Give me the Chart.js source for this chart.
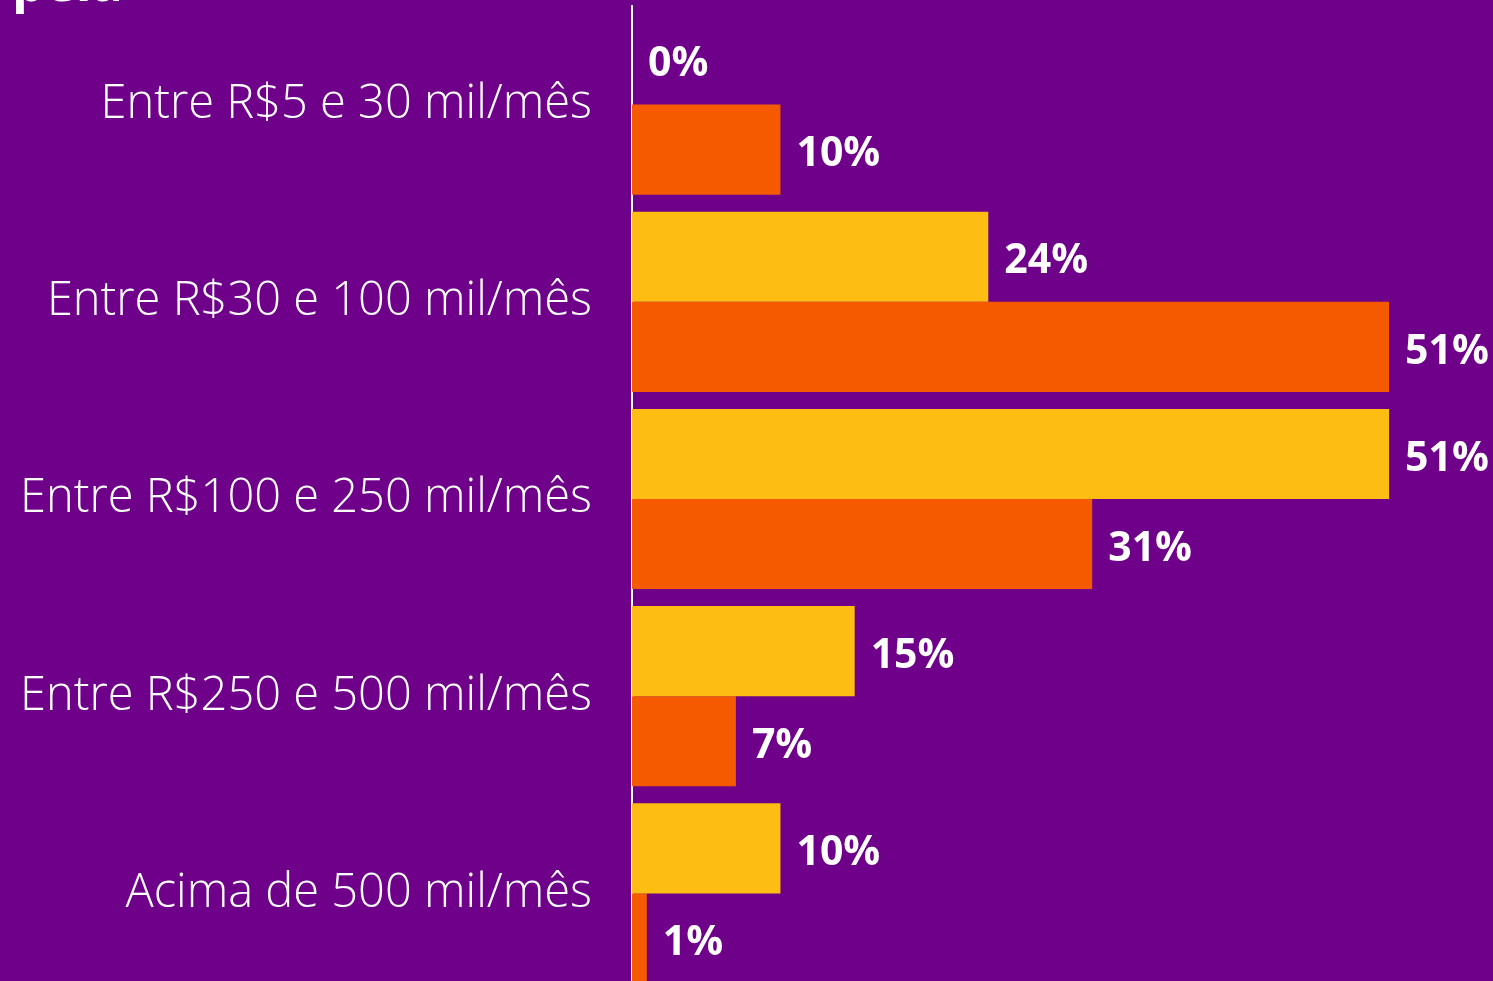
<!DOCTYPE html>
<html>
<head>
<meta charset="utf-8">
<script src="https://cdn.jsdelivr.net/npm/chart.js@4/dist/chart.umd.min.js"></script>
<style>
  html, body { margin:0; padding:0; background:#6E008A; overflow:hidden; width:1493px; height:981px; }
  #wrap { position:absolute; left:0; top:0; width:1493px; height:992px; }
  #title { position:absolute; left:12px; top:-55px; color:#fff; font:700 52px "Open Sans", sans-serif; white-space:nowrap; }
</style>
</head>
<body>
<div id="title">pela</div>
<div id="wrap"><canvas id="c"></canvas></div>
<script>
const categories = [
  "Entre R$5 e 30 mil/mês",
  "Entre R$30 e 100 mil/mês",
  "Entre R$100 e 250 mil/mês",
  "Entre R$250 e 500 mil/mês",
  "Acima de 500 mil/mês"
];
const seriesYellow = [0, 24, 51, 15, 10];
const seriesOrange = [10, 51, 31, 7, 1];

const valueLabels = {
  id: 'valueLabels',
  afterDatasetsDraw(chart) {
    const ctx = chart.ctx;
    ctx.save();
    ctx.fillStyle = '#ffffff';
    ctx.font = '700 41px "Open Sans", sans-serif';
    ctx.textAlign = 'left';
    ctx.textBaseline = 'middle';
    chart.data.datasets.forEach((ds, di) => {
      const meta = chart.getDatasetMeta(di);
      meta.data.forEach((el, i) => {
        ctx.fillText(ds.data[i] + '%', el.x + 16, el.y + 5);
      });
    });
    ctx.restore();
  }
};

new Chart(document.getElementById('c'), {
  type: 'bar',
  data: {
    labels: categories,
    datasets: [
      { data: seriesYellow, backgroundColor: '#FDBD12', borderWidth: 0, categoryPercentage: 0.914, barPercentage: 1.0 },
      { data: seriesOrange, backgroundColor: '#F55A00', borderWidth: 0, categoryPercentage: 0.914, barPercentage: 1.0 }
    ]
  },
  options: {
    indexAxis: 'y',
    responsive: true,
    maintainAspectRatio: false,
    animation: false,
    layout: { padding: { top: 6, right: 0, bottom: 0, left: 0 } },
    plugins: { legend: { display: false }, tooltip: { enabled: false }, title: { display: false } },
    scales: {
      x: { display: false, min: 0, max: 58 },
      y: {
        afterFit(scale) { scale.width = 632; scale.paddingTop = 0; scale.paddingBottom = 0; },
        grid: { display: false },
        border: { display: true, color: '#ffffff', width: 2 },
        ticks: {
          color: '#ffffff',
          padding: 32,
          font: { family: '"Open Sans", sans-serif', size: 47, weight: 300 }
        }
      }
    }
  },
  plugins: [valueLabels]
});
</script>
</body>
</html>
